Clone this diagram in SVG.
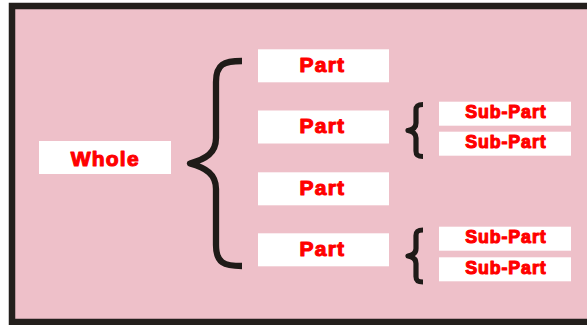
<svg xmlns="http://www.w3.org/2000/svg" width="587" height="325" viewBox="0 0 587 325">
<style>
.box{fill:#ffffff;}
.lbl{font-family:"Liberation Sans",Arial,sans-serif;font-weight:bold;fill:#ff0000;stroke:#ff0000;stroke-width:1.1;stroke-linejoin:round;text-anchor:middle;}
.big{font-size:21px;letter-spacing:1.2px;}
.sub{font-size:17.8px;letter-spacing:0.9px;}
.brace{fill:none;stroke:#1f1b18;stroke-linecap:butt;stroke-linejoin:round;}
</style>
<rect x="0" y="0" width="587" height="325" fill="#ffffff"/>
<rect id="frame" x="12" y="6" width="600" height="316" fill="#eec0c9" stroke="#231f1c" stroke-width="6.5"/>
<g id="connectors">
  <path class="brace" stroke-width="6.3" d="M242,61 C224,61 216,64 216,82 L216,138 C216,153 206,159 190,163.5 C206,168 216,174 216,189 L216,245 C216,263 224,266 242,266"/>
  <path class="brace" stroke-width="5.2" d="M423,104.5 C417.5,104.5 416,106 416,110 L416,123 C416,127 413.5,129.5 408,130.5 C413.5,131.5 416,134 416,138 L416,151 C416,155 417.5,156.5 423,156.5"/>
  <path class="brace" stroke-width="5.2" d="M423,230 C417.5,230 416,231.5 416,235.5 L416,248.5 C416,252.5 413.5,255 408,256 C413.5,257 416,259.5 416,263.5 L416,276.5 C416,280.5 417.5,282 423,282"/>
</g>
<g id="whole"><rect class="box" x="39" y="141" width="132" height="33"/><text class="lbl big" x="105.3" y="165.7">Whole</text></g>
<g id="part1"><rect class="box" x="258" y="49.3" width="131" height="33"/><text class="lbl big" x="322.4" y="71.5">Part</text></g>
<g id="part2"><rect class="box" x="258" y="110.5" width="131" height="33"/><text class="lbl big" x="322.4" y="132.8">Part</text></g>
<g id="part3"><rect class="box" x="258" y="172.3" width="131" height="33"/><text class="lbl big" x="322.4" y="194.8">Part</text></g>
<g id="part4"><rect class="box" x="258" y="233.3" width="131" height="33"/><text class="lbl big" x="322.4" y="255.8">Part</text></g>
<g id="sub1"><rect class="box" x="439" y="101.7" width="132" height="24"/><text class="lbl sub" x="505.9" y="118.3">Sub-Part</text></g>
<g id="sub2"><rect class="box" x="439" y="131.7" width="132" height="24"/><text class="lbl sub" x="505.9" y="148.3">Sub-Part</text></g>
<g id="sub3"><rect class="box" x="439" y="226.7" width="132" height="24"/><text class="lbl sub" x="505.9" y="243.3">Sub-Part</text></g>
<g id="sub4"><rect class="box" x="439" y="257.3" width="132" height="24"/><text class="lbl sub" x="505.9" y="274">Sub-Part</text></g>
</svg>
